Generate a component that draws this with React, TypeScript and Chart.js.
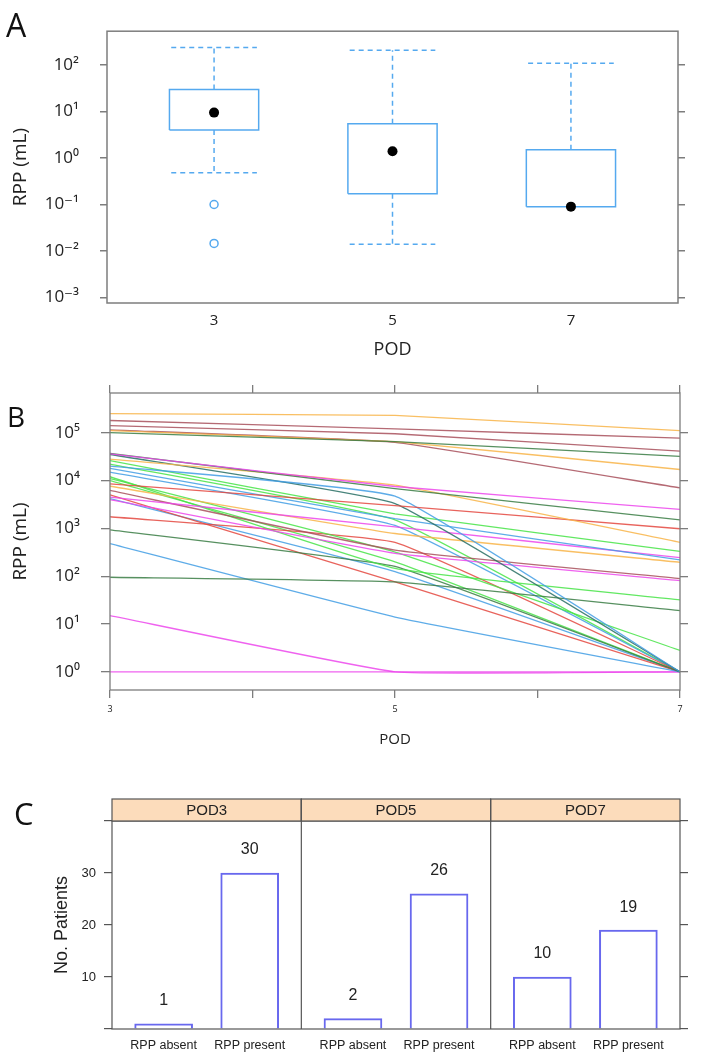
import React, { useEffect, useRef } from 'react';
import { Chart, registerables } from 'chart.js';

Chart.register(...registerables);

// ---------------- Panel A: box plots of RPP by POD ----------------
const podA = [3, 5, 7];
const q1A = [4, 0.17, 0.09];
const q3A = [30, 5.5, 1.5];
const medianA = [9.5, 1.4, 0.09];
const whiskerLowA = [0.48, 0.014, 0.09];
const whiskerHighA = [240, 210, 110];
const outlierPodA = [3, 3];
const outlierValA = [0.1, 0.0145];
const logTicksA = [0.001, 0.01, 0.1, 1, 10, 100];

// ---------------- Panel B: individual patient trajectories ----------------
const podB = [3, 4, 5, 6, 7];
const podLabelsB = ['3', '', '5', '', '7'];
const rppPod3 = [2.5e5, 1.8e5, 1.4e5, 1.0e5, 1.1e5, 1.15e5, 3.6e4, 3.7e4, 2.8e4, 8.5e3, 2.0e4, 3.5e4, 2.6e4, 1.8e4, 4.5e3, 7.6e3, 6.2e3, 4.0e3, 1.2e4, 95, 930, 480, 15, 1, 1.1e4, 1.75e3, 5.0e3, 1.5e4, 1.0e4, 4.2e3, 2.2e4];
const rppPod5 = [2.3e5, 1.2e5, 9.5e4, 6.5e4, 6.5e4, 6.3e4, 7.5e3, 6.8e3, 8.0e3, 3.0e3, 4.7e3, 3.3e3, 2.0e3, 1.6e3, 1.07e3, 780, 350, 300, 145, 76, 160, 14, 1, 1, 320, 510, 76, 1.15e3, 200, 125, 1.5e3];
const rppPod7 = [1.1e5, 7.7e4, 4.1e4, 3.2e4, 1.7e4, 7.0e3, 2.5e3, 1.5e3, 510, 980, 1, 1, 330, 220, 245, 195, 89, 81, 32, 19, 1, 1, 1, 1, 2.8, 1, 1, 1, 1, 1, 1];
const lineGroupB = ['orange', 'brown', 'brown', 'darkgreen', 'orange', 'brown', 'magenta', 'darkgreen', 'orange', 'red', 'blue', 'teal', 'green', 'blue', 'magenta', 'orange', 'brown', 'magenta', 'green', 'darkgreen', 'darkgreen', 'blue', 'magenta', 'magenta', 'green', 'red', 'red', 'blue', 'green', 'blue', 'green'];
const logTicksB = [1, 10, 100, 1e3, 1e4, 1e5];

// ---------------- Panel C: patients with / without RPP ----------------
const facetsC = ['POD3', 'POD5', 'POD7'];
const groupsC = ['RPP absent', 'RPP present'];
const absentC = [1, 2, 10];
const presentC = [30, 26, 19];
const countTicksC = [0, 10, 20, 30, 40];

// ---------------- styles ----------------
const SANS = "'Open Sans', 'DejaVu Sans', sans-serif";
const HELV = "'Liberation Sans', Arial, sans-serif";
const BOX_BLUE = '#55a9ef';
const FRAME_GREY = '#7d7d7d';
const PALETTE: Record<string, string> = {
  orange: 'rgba(248,180,72,0.85)',
  brown: 'rgba(168,80,92,0.85)',
  darkgreen: 'rgba(58,125,68,0.85)',
  teal: 'rgba(40,110,100,0.85)',
  red: 'rgba(228,72,64,0.85)',
  blue: 'rgba(66,158,228,0.85)',
  green: 'rgba(70,228,70,0.85)',
  magenta: 'rgba(236,70,236,0.85)',
};

const SUP: Record<string, string> = { '-': '⁻', '0': '⁰', '1': '¹', '2': '²', '3': '³', '4': '⁴', '5': '⁵', '6': '⁶', '7': '⁷', '8': '⁸', '9': '⁹' };
const powLabel = (v: number) => '10' + String(Math.round(Math.log10(v))).split('').map((c) => SUP[c]).join('');

const framePlugin = (color: string, width: number) => ({
  id: 'frame',
  afterDatasetsDraw(chart: any) {
    const { ctx, chartArea } = chart;
    ctx.save();
    ctx.strokeStyle = color;
    ctx.lineWidth = width;
    ctx.strokeRect(chartArea.left, chartArea.top, chartArea.right - chartArea.left, chartArea.bottom - chartArea.top);
    ctx.restore();
  },
});

const baseOptions = {
  responsive: false,
  animation: false as const,
  events: [] as any[],
  plugins: { legend: { display: false }, tooltip: { enabled: false } },
};

function configA(): any {
  const datasets: any[] = [];
  const hw = 0.5;
  const cw = 0.48;
  const dashed = { borderColor: BOX_BLUE, borderWidth: 1.5, borderDash: [5, 4], showLine: true, pointRadius: 0, tension: 0 };
  podA.forEach((x, i) => {
    datasets.push({
      data: [
        { x: x - hw, y: q1A[i] }, { x: x + hw, y: q1A[i] }, { x: x + hw, y: q3A[i] }, { x: x - hw, y: q3A[i] }, { x: x - hw, y: q1A[i] },
      ],
      borderColor: BOX_BLUE, borderWidth: 1.5, showLine: true, pointRadius: 0, tension: 0,
    });
    datasets.push({ ...dashed, data: [{ x, y: q3A[i] }, { x, y: whiskerHighA[i] }] });
    datasets.push({ ...dashed, data: [{ x: x - cw, y: whiskerHighA[i] }, { x: x + cw, y: whiskerHighA[i] }] });
    if (whiskerLowA[i] < q1A[i]) {
      datasets.push({ ...dashed, data: [{ x, y: q1A[i] }, { x, y: whiskerLowA[i] }] });
      datasets.push({ ...dashed, data: [{ x: x - cw, y: whiskerLowA[i] }, { x: x + cw, y: whiskerLowA[i] }] });
    }
  });
  datasets.push({
    data: outlierPodA.map((x, i) => ({ x, y: outlierValA[i] })),
    showLine: false, pointRadius: 4, pointBackgroundColor: '#fff', pointBorderColor: BOX_BLUE, pointBorderWidth: 1.5, order: -1,
  });
  datasets.push({
    data: podA.map((x, i) => ({ x, y: medianA[i] })),
    showLine: false, pointRadius: 5, pointBackgroundColor: '#000', pointBorderColor: '#000', pointBorderWidth: 0, order: -2,
  });
  const yMin = Math.pow(10, -3.12);
  const yMax = Math.pow(10, 2.73);
  return {
    type: 'scatter',
    data: { datasets },
    options: {
      ...baseOptions,
      layout: { padding: { top: 13, left: 0, right: 0, bottom: 0 } },
      scales: {
        x: {
          type: 'linear', position: 'bottom', min: 1.8, max: 8.2,
          afterBuildTicks: (s: any) => { s.ticks = podA.map((v) => ({ value: v })); },
          ticks: { font: { family: SANS, size: 15 }, color: '#222', padding: 9, callback: (v: any) => String(v) },
          grid: { display: false, drawTicks: false },
          border: { display: false },
          title: { display: true, text: 'POD', font: { family: SANS, size: 18 }, color: '#222', padding: { top: 0, bottom: 9 } },
          afterFit: (s: any) => { s.height = 67; },
        },
        y: {
          type: 'logarithmic', position: 'left', min: yMin, max: yMax,
          afterBuildTicks: (s: any) => { s.ticks = logTicksA.map((v) => ({ value: v })); },
          ticks: { font: { family: SANS, size: 17 }, color: '#222', padding: 21, callback: (v: any) => powLabel(v) },
          grid: { drawOnChartArea: false, drawTicks: true, tickLength: 7, color: FRAME_GREY, lineWidth: 1.5 },
          border: { display: false },
          title: { display: true, text: 'RPP (mL)', font: { family: SANS, size: 19 }, color: '#222', padding: { top: 9, bottom: 0 } },
          afterFit: (s: any) => { s.width = 107; },
        },
        y2: {
          type: 'logarithmic', position: 'right', min: yMin, max: yMax,
          afterBuildTicks: (s: any) => { s.ticks = logTicksA.map((v) => ({ value: v })); },
          ticks: { display: false },
          grid: { drawOnChartArea: false, drawTicks: true, tickLength: 7, color: FRAME_GREY, lineWidth: 1.5 },
          border: { display: false },
          afterFit: (s: any) => { s.width = 23; },
        },
      },
    },
    plugins: [framePlugin(FRAME_GREY, 1.5)],
  };
}

function configB(): any {
  const datasets = rppPod3.map((v3, i) => ({
    data: [{ x: 3, y: v3 }, { x: 5, y: rppPod5[i] }, { x: 7, y: rppPod7[i] }],
    borderColor: PALETTE[lineGroupB[i]],
    borderWidth: 1.3,
    showLine: true,
    pointRadius: 0,
    tension: 0.1,
  }));
  const yMin = Math.pow(10, -0.38);
  const yMax = Math.pow(10, 5.83);
  const tickGrid = { drawOnChartArea: false, drawTicks: true, tickLength: 8, color: FRAME_GREY, lineWidth: 1.3 };
  return {
    type: 'scatter',
    data: { datasets },
    options: {
      ...baseOptions,
      layout: { padding: 0 },
      scales: {
        x: {
          type: 'linear', position: 'bottom', min: 3, max: 7,
          afterBuildTicks: (s: any) => { s.ticks = podB.map((v) => ({ value: v })); },
          ticks: { font: { family: SANS, size: 9 }, color: '#222', padding: 6, autoSkip: false, maxRotation: 0, callback: (_v: any, i: number) => podLabelsB[i] },
          grid: tickGrid,
          border: { display: false },
          title: { display: true, text: 'POD', font: { family: SANS, size: 15 }, color: '#222', padding: { top: 0, bottom: 11 } },
          afterFit: (s: any) => { s.height = 70; },
        },
        x2: {
          type: 'linear', position: 'top', min: 3, max: 7,
          afterBuildTicks: (s: any) => { s.ticks = podB.map((v) => ({ value: v })); },
          ticks: { display: false },
          grid: tickGrid,
          border: { display: false },
          afterFit: (s: any) => { s.height = 33; },
        },
        y: {
          type: 'logarithmic', position: 'left', min: yMin, max: yMax,
          afterBuildTicks: (s: any) => { s.ticks = logTicksB.map((v) => ({ value: v })); },
          ticks: { font: { family: SANS, size: 17 }, color: '#222', padding: 21, callback: (v: any) => powLabel(v) },
          grid: { ...tickGrid, tickLength: 9 },
          border: { display: false },
          title: { display: true, text: 'RPP (mL)', font: { family: SANS, size: 19 }, color: '#222', padding: { top: 9, bottom: 0 } },
          afterFit: (s: any) => { s.width = 110; },
        },
        y2: {
          type: 'logarithmic', position: 'right', min: yMin, max: yMax,
          afterBuildTicks: (s: any) => { s.ticks = logTicksB.map((v) => ({ value: v })); },
          ticks: { display: false },
          grid: tickGrid,
          border: { display: false },
          afterFit: (s: any) => { s.width = 21; },
        },
      },
    },
    plugins: [framePlugin(FRAME_GREY, 1.3)],
  };
}

function configC(): any {
  const facetWidth = 2.2;
  const firstPos = 0.6;
  const positions: number[] = [];
  const bars: any[] = [];
  facetsC.forEach((_f, k) => {
    const p0 = k * facetWidth + firstPos;
    positions.push(p0, p0 + 1);
    bars.push({ x: p0, y: absentC[k] }, { x: p0 + 1, y: presentC[k] });
  });
  const stripH = 22;
  const stripPlugin = {
    id: 'strips',
    afterDraw(chart: any) {
      const { ctx, chartArea, scales } = chart;
      const xs = scales.x;
      ctx.save();
      facetsC.forEach((name, k) => {
        const x0 = xs.getPixelForValue(k * facetWidth);
        const x1 = xs.getPixelForValue((k + 1) * facetWidth);
        const y0 = chartArea.top - stripH;
        ctx.fillStyle = '#fcdcbb';
        ctx.fillRect(x0, y0, x1 - x0, stripH);
        ctx.strokeStyle = '#555';
        ctx.lineWidth = 1.2;
        ctx.strokeRect(x0, y0, x1 - x0, stripH);
        ctx.fillStyle = '#222';
        ctx.font = `15px ${HELV}`;
        ctx.textAlign = 'center';
        ctx.textBaseline = 'middle';
        ctx.fillText(name, (x0 + x1) / 2, y0 + stripH / 2 + 1);
      });
      ctx.strokeStyle = '#555';
      ctx.lineWidth = 1.2;
      for (let k = 1; k < facetsC.length; k++) {
        const x = xs.getPixelForValue(k * facetWidth);
        ctx.beginPath();
        ctx.moveTo(x, chartArea.top - stripH);
        ctx.lineTo(x, chartArea.bottom);
        ctx.stroke();
      }
      const meta = chart.getDatasetMeta(0);
      ctx.fillStyle = '#222';
      ctx.font = `16px ${HELV}`;
      ctx.textAlign = 'center';
      ctx.textBaseline = 'middle';
      meta.data.forEach((el: any, i: number) => {
        ctx.fillText(String(bars[i].y), el.x, el.y - 23);
      });
      ctx.restore();
    },
  };
  const tickGrid = { drawOnChartArea: false, drawTicks: true, tickLength: 8, color: '#555', lineWidth: 1.2 };
  return {
    type: 'bar',
    data: {
      datasets: [{
        data: bars,
        backgroundColor: '#ffffff',
        borderColor: '#6868ee',
        borderWidth: 2,
        barThickness: 58,
      }],
    },
    options: {
      ...baseOptions,
      layout: { padding: { top: 61, left: 0, right: 0, bottom: 0 } },
      scales: {
        x: {
          type: 'linear', position: 'bottom', min: 0, max: facetsC.length * facetWidth, offset: false,
          afterBuildTicks: (s: any) => { s.ticks = positions.map((v) => ({ value: v })); },
          ticks: { font: { family: HELV, size: 12.5 }, color: '#222', padding: 9, autoSkip: false, maxRotation: 0, callback: (_v: any, i: number) => groupsC[i % 2] },
          grid: { display: false, drawTicks: false, offset: false },
          border: { display: false },
          afterFit: (s: any) => { s.height = 33; },
        },
        y: {
          type: 'linear', position: 'left', min: 0, max: 40,
          afterBuildTicks: (s: any) => { s.ticks = countTicksC.map((v) => ({ value: v })); },
          ticks: { font: { family: HELV, size: 13 }, color: '#222', padding: 8, callback: (v: any) => (v === 0 || v === 40 ? '' : String(v)) },
          grid: tickGrid,
          border: { display: false },
          title: { display: true, text: 'No. Patients', font: { family: HELV, size: 18 }, color: '#222', padding: { top: 51, bottom: 0 } },
          afterFit: (s: any) => { s.width = 112; },
        },
        y2: {
          type: 'linear', position: 'right', min: 0, max: 40,
          afterBuildTicks: (s: any) => { s.ticks = countTicksC.map((v) => ({ value: v })); },
          ticks: { display: false },
          grid: tickGrid,
          border: { display: false },
          afterFit: (s: any) => { s.width = 21; },
        },
      },
    },
    plugins: [framePlugin('#555', 1.2), stripPlugin],
  };
}

function ChartCanvas(props: { make: () => any; top: number; height: number }) {
  const ref = useRef<HTMLCanvasElement>(null);
  useEffect(() => {
    const chart = new Chart(ref.current as HTMLCanvasElement, props.make());
    return () => chart.destroy();
  }, []);
  return (
    <canvas
      ref={ref}
      width={701}
      height={props.height}
      style={{ position: 'absolute', left: 0, top: props.top, width: 701, height: props.height }}
    />
  );
}

const letterStyle = (left: number, top: number, size: number): React.CSSProperties => ({
  position: 'absolute',
  left,
  top,
  fontFamily: SANS,
  fontSize: size,
  lineHeight: `${size}px`,
  color: '#111',
});

export default function App() {
  return (
    <div style={{ position: 'absolute', left: 0, top: 0, width: 701, height: 1062, background: '#fff', overflow: 'hidden' }}>
      <ChartCanvas make={configA} top={0} height={370} />
      <ChartCanvas make={configB} top={360} height={400} />
      <ChartCanvas make={configC} top={760} height={302} />
      <div style={letterStyle(6, 9, 32)}>A</div>
      <div style={letterStyle(7, 402, 28)}>B</div>
      <div style={letterStyle(14, 798, 31)}>C</div>
    </div>
  );
}
